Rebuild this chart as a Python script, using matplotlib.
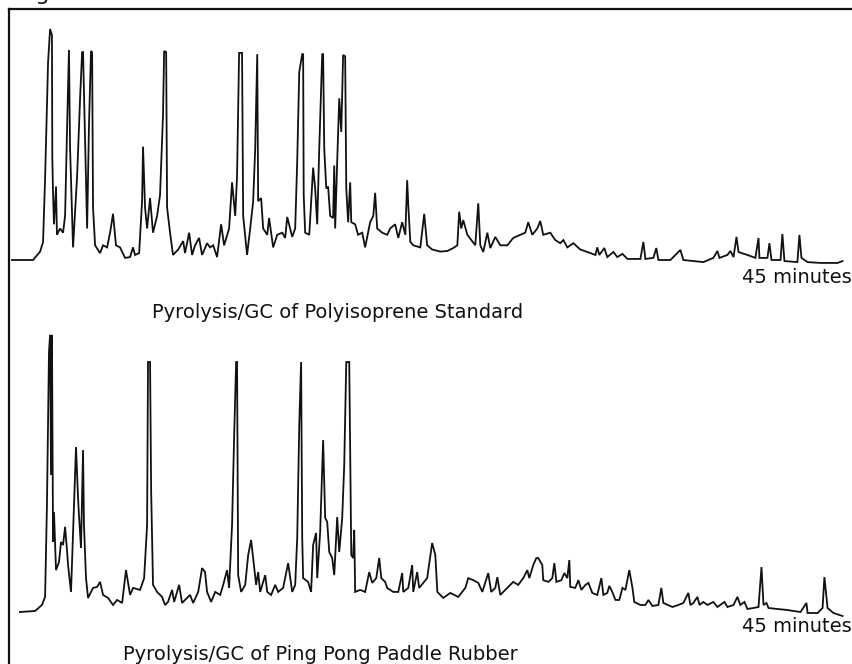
import numpy as np
import matplotlib
matplotlib.use("Agg")
import matplotlib.pyplot as plt

# -------------------------
# Data
# retention time in minutes, detector signal in % of full scale
# -------------------------
polyisoprene_trace = [
    (0.16, 0), (1.30, 0), (1.68, 4), (1.84, 8.6), (1.95, 39), (2.11, 94), (2.22, 110),
    (2.32, 107), (2.34, 49), (2.38, 31), (2.43, 17), (2.54, 35), (2.59, 12), (2.76, 15),
    (2.92, 13), (3.03, 21), (3.14, 64), (3.24, 100), (3.30, 53), (3.41, 21), (3.46, 6),
    (3.68, 40), (3.84, 77), (3.95, 99), (4.00, 99), (4.11, 56), (4.22, 15), (4.32, 64),
    (4.43, 99.5), (4.49, 99), (4.54, 25), (4.65, 7), (4.92, 3.3), (5.08, 7), (5.30, 6),
    (5.46, 13), (5.62, 22), (5.78, 7), (6.00, 6), (6.27, 1), (6.54, 1.4), (6.70, 6),
    (6.81, 2.4), (7.03, 3.3), (7.19, 28), (7.24, 54), (7.35, 25), (7.46, 15), (7.62, 29.5),
    (7.78, 13), (8.00, 21), (8.16, 31), (8.32, 69), (8.38, 99.5), (8.49, 99), (8.54, 25),
    (8.70, 13), (8.86, 2.4), (9.14, 5), (9.41, 9), (9.51, 3.3), (9.73, 13), (9.89, 2.4),
    (10.05, 7), (10.27, 10.5), (10.43, 2.4), (10.70, 8), (10.86, 6), (11.03, 7), (11.24, 1.4),
    (11.46, 17), (11.62, 7), (11.89, 15), (12.05, 37), (12.22, 21), (12.32, 40), (12.43, 98.6),
    (12.59, 98.6), (12.65, 21), (12.86, 2.4), (13.03, 15), (13.19, 28), (13.30, 53), (13.41, 98),
    (13.46, 28), (13.62, 29.5), (13.73, 15), (13.95, 12), (14.05, 20), (14.27, 6), (14.49, 12),
    (14.76, 13), (14.92, 10.5), (15.03, 20.5), (15.30, 11), (15.46, 15), (15.57, 47),
    (15.68, 89.5), (15.84, 98), (15.89, 98), (15.92, 31), (16.00, 13), (16.22, 12), (16.38, 37),
    (16.43, 44), (16.54, 34), (16.65, 17), (16.76, 53), (16.92, 98), (16.97, 98), (17.03, 53),
    (17.14, 34), (17.24, 35), (17.35, 21), (17.51, 20), (17.57, 45), (17.62, 15), (17.73, 47),
    (17.84, 77), (17.95, 61), (18.05, 97.6), (18.16, 97), (18.22, 34), (18.32, 18), (18.43, 37),
    (18.49, 18), (18.70, 17), (18.86, 12), (19.08, 13), (19.24, 6), (19.51, 18), (19.68, 21),
    (19.78, 32), (19.89, 15), (20.16, 13), (20.43, 12), (20.59, 15), (20.86, 17), (21.03, 10.5),
    (21.24, 18), (21.41, 12), (21.51, 38), (21.57, 26), (21.68, 8.6), (21.84, 7), (22.22, 6),
    (22.43, 22), (22.59, 7), (22.86, 5), (23.30, 4), (23.68, 4.3), (24.00, 5.7), (24.22, 7),
    (24.32, 23), (24.43, 15), (24.54, 19), (24.76, 12), (25.19, 7), (25.35, 27), (25.46, 7),
    (25.62, 3.8), (25.84, 13), (26.00, 5.7), (26.27, 11), (26.54, 7), (26.92, 7), (27.24, 10.5),
    (27.62, 12), (27.89, 13), (28.05, 18), (28.27, 12), (28.54, 15), (28.70, 18.6), (28.86, 12),
    (29.24, 13), (29.51, 9.5), (29.78, 8), (29.95, 9.5), (30.16, 6), (30.49, 8), (30.86, 5),
    (31.41, 3.3), (31.68, 2.4), (31.78, 6), (31.89, 2.4), (32.16, 5.7), (32.32, 1.4),
    (32.65, 3.8), (32.86, 1.4), (33.14, 2.9), (33.41, 0.5), (34.11, 0.5), (34.27, 8.6),
    (34.38, 0.5), (34.81, 1), (34.97, 5.7), (35.08, 0), (35.73, 0), (36.27, 4.8), (36.43, 0),
    (37.51, -1), (38.05, 1), (38.27, 4.3), (38.38, 1), (38.81, 2.4), (38.97, 4.3), (39.14, 1.4),
    (39.30, 11), (39.41, 3.8), (39.89, 2.4), (40.32, 1), (40.49, 10.5), (40.54, 1), (40.97, 1),
    (41.08, 8), (41.19, 0), (41.68, 0), (41.78, 12.4), (41.89, -0.5), (42.59, -1), (42.70, 11.9),
    (42.81, 1), (43.14, -1), (43.84, -1.4), (44.76, -1.4), (45.03, -0.5),
]

paddle_rubber_trace = [
    (0.59, 0), (1.41, 0.4), (1.78, 2.8), (1.95, 6), (2.05, 42.6), (2.16, 103.6), (2.22, 110.4),
    (2.27, 54.6), (2.32, 110.4), (2.38, 27.9), (2.43, 39.8), (2.54, 16.7), (2.70, 19.9),
    (2.81, 27.9), (2.92, 26.7), (3.03, 33.9), (3.14, 23.9), (3.19, 18.7), (3.35, 8), (3.46, 31.9),
    (3.62, 65.7), (3.73, 45.4), (3.78, 38.6), (3.89, 25.5), (4.00, 64.5), (4.05, 34.7),
    (4.16, 13.5), (4.27, 5.6), (4.54, 9.6), (4.76, 10), (4.92, 12), (5.08, 6.8), (5.35, 5.6),
    (5.62, 2.8), (5.84, 4.8), (6.11, 3.6), (6.32, 16.7), (6.54, 6.8), (6.70, 9.6), (7.08, 8.8),
    (7.30, 13.5), (7.46, 34.7), (7.51, 99.6), (7.62, 99.6), (7.68, 47.8), (7.78, 10.8), (8.00, 8),
    (8.27, 6), (8.43, 2.8), (8.59, 4), (8.81, 8.8), (8.92, 4), (9.19, 10.8), (9.35, 3.6),
    (9.62, 5.6), (9.78, 6.8), (9.95, 3.6), (10.22, 8), (10.43, 17.5), (10.59, 15.9), (10.70, 8),
    (10.92, 4), (11.14, 8), (11.41, 6.8), (11.57, 10.8), (11.78, 16.7), (11.89, 9.6),
    (12.05, 34.7), (12.16, 69.3), (12.27, 99.6), (12.32, 99.6), (12.38, 14.7), (12.54, 8),
    (12.76, 10.8), (12.92, 22.7), (13.08, 28.7), (13.19, 21.5), (13.35, 10.8), (13.46, 15.9),
    (13.57, 8), (13.84, 14.7), (13.95, 8), (14.16, 6.8), (14.38, 10.8), (14.54, 8), (14.81, 9.6),
    (15.08, 19.5), (15.30, 8), (15.46, 10.8), (15.57, 29.5), (15.68, 74.5), (15.78, 99.6),
    (15.84, 29.5), (15.89, 13.5), (16.16, 12), (16.32, 8), (16.43, 26.7), (16.59, 31.5),
    (16.65, 13.5), (16.81, 31.9), (16.97, 68.5), (17.08, 37.5), (17.19, 35.9), (17.30, 23.9),
    (17.46, 21.5), (17.57, 14.7), (17.73, 37.8), (17.84, 23.9), (18.00, 37.5), (18.11, 58.6),
    (18.22, 99.6), (18.38, 99.6), (18.49, 22.7), (18.59, 21.5), (18.65, 32.7), (18.70, 8),
    (18.97, 8.8), (19.24, 8), (19.46, 15.9), (19.62, 11.6), (19.84, 13.5), (20.00, 21.5),
    (20.11, 13.5), (20.32, 12), (20.43, 9.6), (20.76, 8), (21.03, 8), (21.24, 15.5), (21.30, 8),
    (21.57, 9.6), (21.78, 18.7), (21.84, 8), (22.05, 15.9), (22.16, 9.6), (22.59, 13.5),
    (22.86, 27.5), (23.03, 22.7), (23.14, 8), (23.46, 5.6), (23.84, 7.6), (24.27, 6), (24.65, 9.6),
    (24.81, 13.5), (25.08, 12.7), (25.35, 11.6), (25.57, 8), (25.89, 15.5), (26.05, 8),
    (26.27, 9.6), (26.38, 13.9), (26.54, 6.8), (26.92, 9.6), (27.24, 12), (27.51, 10.8),
    (27.78, 13.5), (28.00, 16.7), (28.11, 13.5), (28.32, 18.7), (28.49, 21.5), (28.59, 21.5),
    (28.81, 18.7), (28.86, 12.7), (29.14, 12), (29.35, 13.5), (29.46, 19.5), (29.57, 12),
    (29.84, 12.7), (30.00, 15.5), (30.16, 13.5), (30.27, 20.7), (30.32, 10), (30.59, 9.6),
    (30.76, 12.7), (30.92, 8.8), (31.14, 10.8), (31.30, 11.6), (31.51, 7.6), (31.78, 6.8),
    (32.00, 13.5), (32.11, 6.8), (32.32, 7.6), (32.43, 10.4), (32.59, 8), (32.76, 4.8),
    (32.97, 4.8), (33.14, 9.6), (33.30, 8.8), (33.51, 16.7), (33.68, 9.6), (33.78, 4),
    (34.11, 2.8), (34.38, 2.8), (34.54, 4.8), (34.76, 2.4), (35.08, 2.8), (35.24, 9.6),
    (35.35, 3.6), (35.84, 2), (36.16, 2.8), (36.43, 3.6), (36.70, 7.6), (36.81, 2.8),
    (36.97, 3.6), (37.19, 6), (37.30, 2.8), (37.51, 4), (37.73, 2.8), (38.05, 4), (38.27, 2),
    (38.65, 4), (38.81, 2), (39.14, 2.8), (39.35, 6), (39.51, 2.8), (39.73, 4), (39.89, 1.2),
    (40.22, 1.6), (40.49, 2), (40.65, 17.9), (40.76, 2.8), (40.92, 3.6), (41.03, 1.6),
    (41.51, 1.2), (42.05, 0.8), (42.38, 0.4), (42.76, 0), (43.08, 3.6), (43.14, -0.4),
    (43.68, -0.4), (43.95, 1.6), (44.05, 13.9), (44.22, 1.6), (44.54, -0.4), (45.03, -1.6),
]

run_length_label = "45 minutes"
top_title = "Pyrolysis/GC of Polyisoprene Standard"
bottom_title = "Pyrolysis/GC of Ping Pong Paddle Rubber"

INK = "#111111"
W, H = 853, 664


def draw_trace(ax, trace):
    t = np.array([p[0] for p in trace])
    s = np.array([p[1] for p in trace])
    ax.plot(t, s, color=INK, lw=1.3, solid_joinstyle="miter", clip_on=False)
    ax.set_xlim(0, 45)
    ax.set_ylim(0, 100)
    ax.axis("off")


fig = plt.figure(figsize=(W / 100, H / 100), dpi=100)

# frame: only top and left edges are visible in the scan
frame = fig.add_axes([9 / W, -0.05, 1.0, 1.05 - 9 / H])
frame.set_xticks([])
frame.set_yticks([])
for side in ("right", "bottom"):
    frame.spines[side].set_visible(False)
for side in ("top", "left"):
    frame.spines[side].set_linewidth(1.6)
    frame.spines[side].set_color(INK)
frame.patch.set_alpha(0)

ax_top = fig.add_axes([9 / W, 1 - 260 / H, 833 / W, 210 / H])
draw_trace(ax_top, polyisoprene_trace)

ax_bot = fig.add_axes([9 / W, 1 - 612 / H, 833 / W, 251 / H])
draw_trace(ax_bot, paddle_rubber_trace)

# texts (the figure caption is cut off by the scan's top edge)
fig.text(18 / W, 1.0, "Figure 2", fontsize=16, color=INK, va="baseline")
fig.text(742 / W, 1 - 277 / H, run_length_label, fontsize=14, color=INK, va="center")
fig.text(742 / W, 1 - 627 / H, run_length_label, fontsize=14, color=INK, va="center")
fig.text(152 / W, 1 - 313 / H, top_title, fontsize=14, color=INK, va="center")
fig.text(123 / W, 1 - 655 / H, bottom_title, fontsize=14, color=INK, va="center")

fig.savefig("out.png", dpi=100, facecolor="white")
